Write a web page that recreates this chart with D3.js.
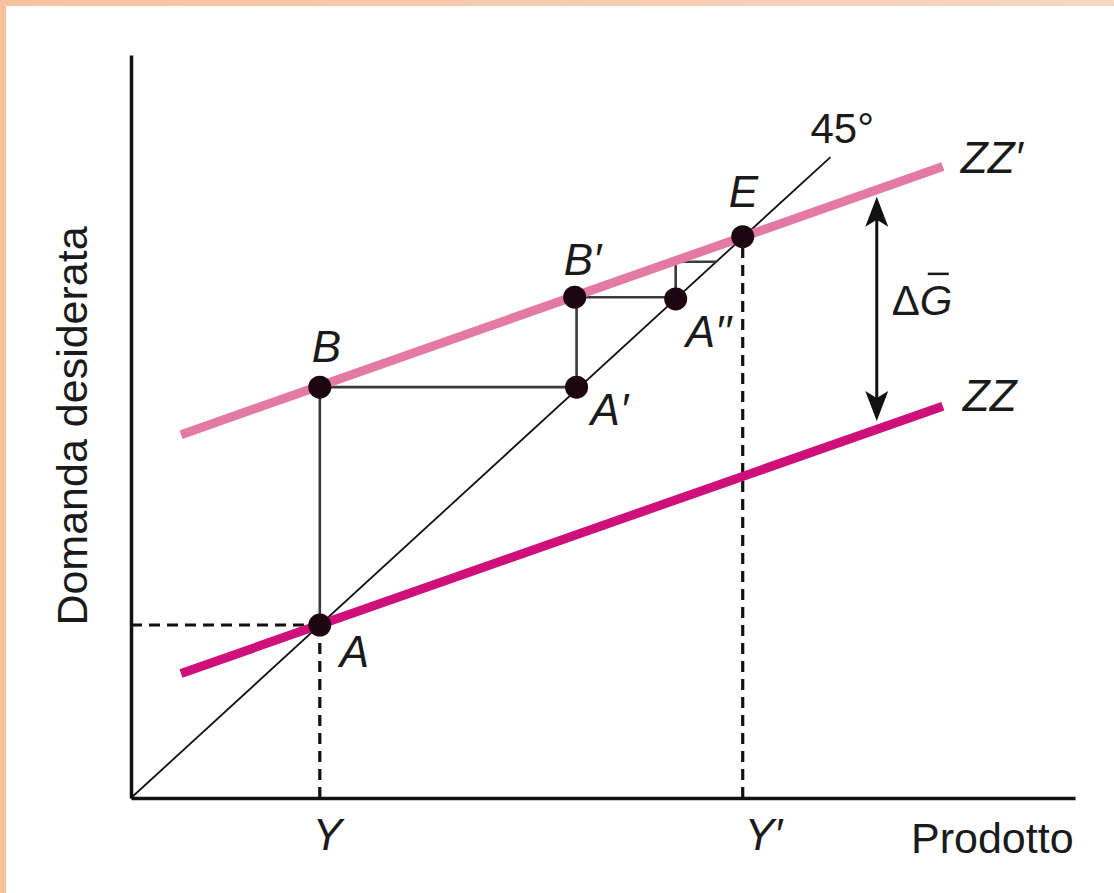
<!DOCTYPE html>
<html>
<head>
<meta charset="utf-8">
<script src="https://cdn.jsdelivr.net/npm/d3@7"></script>
<style>
  html, body { margin: 0; padding: 0; background: #fff; }
  svg { display: block; }
  text { font-family: "Liberation Sans", Arial, "DejaVu Sans", sans-serif; fill: #1a1a1a; }
</style>
</head>
<body>
<svg id="chart" width="1114" height="893"></svg>
<script>
// ---------- data (in chart units) ----------
const xDomain = [0, 10];
const yDomain = [0, 8.59];

// 45-degree line end
const line45X = [0, 7.41];
const line45Y = [0, 7.41];

// ZZ and ZZ' demand lines (endpoints)
const zzX = [0.53, 8.6];
const zzY = [1.44, 4.53];
const zzPrimeY = [4.20, 7.30];

// labelled points of the adjustment path
const pointNames = ["A", "B", "A′", "B′", "A′′", "E"];
const pointX = [2.0, 2.0, 4.72, 4.70, 5.77, 6.48];
const pointY = [2.0, 4.75, 4.75, 5.79, 5.77, 6.49];

// staircase (solid step lines) vertices
const stepX = [2.0, 2.0, 4.72, 4.72, 5.77, 5.77, 6.2];
const stepY = [2.0, 4.75, 4.75, 5.79, 5.79, 6.2, 6.2];

// dashed guide lines
const guideX1 = [0, 2.0, 6.48];
const guideY1 = [2.0, 0, 0];
const guideX2 = [2.0, 2.0, 6.48];
const guideY2 = [2.0, 2.0, 6.49];

// delta G arrow
const arrowX = 7.9;
const arrowYTop = 6.95;
const arrowYBottom = 4.36;

// tick labels on the x axis
const xTickValues = [2.0, 6.48];
const xTickLabels = ["Y", "Y′"];

// ---------- drawing ----------
const svg = d3.select("#chart");
const W = 1114, H = 893;

// peach frame
const defs = svg.append("defs");
const grad = defs.append("linearGradient").attr("id", "topband").attr("x1", "0").attr("x2", "1");
grad.append("stop").attr("offset", "0").attr("stop-color", "#F6C29E");
grad.append("stop").attr("offset", "1").attr("stop-color", "#F8D6C2");
svg.append("rect").attr("x", 0).attr("y", 0).attr("width", W).attr("height", H).attr("fill", "#fff");
svg.append("rect").attr("x", 0).attr("y", 0).attr("width", W).attr("height", 6).attr("fill", "url(#topband)");
svg.append("rect").attr("x", 0).attr("y", 0).attr("width", 6).attr("height", H).attr("fill", "#F6C29E");

const x = d3.scaleLinear().domain(xDomain).range([131, 1075]);
const y = d3.scaleLinear().domain(yDomain).range([798, 55]);

const g = svg.append("g");

// dashed guides
guideX1.forEach((_, i) => {
  g.append("line")
    .attr("x1", x(guideX1[i])).attr("y1", y(guideY1[i]))
    .attr("x2", x(guideX2[i])).attr("y2", y(guideY2[i]))
    .attr("stroke", "#111").attr("stroke-width", 3.2)
    .attr("stroke-dasharray", "11,7");
});

// 45 degree line
g.append("line")
  .attr("x1", x(line45X[0])).attr("y1", y(line45Y[0]))
  .attr("x2", x(line45X[1])).attr("y2", y(line45Y[1]))
  .attr("stroke", "#111").attr("stroke-width", 1.8);

// staircase
const stepData = stepX.map((v, i) => [v, stepY[i]]);
g.append("path")
  .attr("d", d3.line().x(d => x(d[0])).y(d => y(d[1]))(stepData))
  .attr("fill", "none").attr("stroke", "#3a3a3a").attr("stroke-width", 2.6);

// ZZ lines
g.append("line")
  .attr("x1", x(zzX[0])).attr("y1", y(zzPrimeY[0]))
  .attr("x2", x(zzX[1])).attr("y2", y(zzPrimeY[1]))
  .attr("stroke", "#E27AA4").attr("stroke-width", 9);
g.append("line")
  .attr("x1", x(zzX[0])).attr("y1", y(zzY[0]))
  .attr("x2", x(zzX[1])).attr("y2", y(zzY[1]))
  .attr("stroke", "#D0107A").attr("stroke-width", 9);

// axes
const xAxis = d3.axisBottom(x).tickValues([]).tickSizeOuter(0);
const yAxis = d3.axisLeft(y).tickValues([]).tickSizeOuter(0);
const gx = svg.append("g").attr("transform", `translate(0,${y(0)})`).call(xAxis);
const gy = svg.append("g").attr("transform", `translate(${x(0)},0)`).call(yAxis);
[gx, gy].forEach(a => a.select(".domain").attr("stroke", "#111").attr("stroke-width", 3.5));

// points
g.selectAll("circle.pt").data(pointX.map((v, i) => ({ x: v, y: pointY[i] })))
  .join("circle").attr("class", "pt")
  .attr("cx", d => x(d.x)).attr("cy", d => y(d.y)).attr("r", 11.5)
  .attr("fill", "#1c0710");

// arrow (delta G)
const ax = x(arrowX), aTop = y(arrowYTop), aBot = y(arrowYBottom);
const headL = 30, headW = 11.5, notch = 23;
g.append("line").attr("x1", ax).attr("x2", ax)
  .attr("y1", aTop + notch - 2).attr("y2", aBot - notch + 2)
  .attr("stroke", "#111").attr("stroke-width", 3);
g.append("path")
  .attr("d", `M${ax},${aTop} L${ax + headW},${aTop + headL} L${ax},${aTop + notch} L${ax - headW},${aTop + headL} Z`)
  .attr("fill", "#111");
g.append("path")
  .attr("d", `M${ax},${aBot} L${ax + headW},${aBot - headL} L${ax},${aBot - notch} L${ax - headW},${aBot - headL} Z`)
  .attr("fill", "#111");

// point labels (offsets in px)
const labelDX = [20, -8, 14, -11, 10, -14];
const labelDY = [42, -25, 38, -22, 48, -30];
pointNames.forEach((name, i) => {
  g.append("text")
    .attr("x", x(pointX[i]) + labelDX[i]).attr("y", y(pointY[i]) + labelDY[i])
    .attr("font-size", 44).attr("font-style", "italic")
    .text(name);
});

// line labels
g.append("text").attr("x", x(zzX[1]) + 18).attr("y", y(zzPrimeY[1]) + 6)
  .attr("font-size", 44).attr("font-style", "italic").text("ZZ′");
g.append("text").attr("x", x(zzX[1]) + 20).attr("y", y(zzY[1]) + 5)
  .attr("font-size", 44).attr("font-style", "italic").text("ZZ");
g.append("text").attr("x", x(line45X[1]) - 20).attr("y", y(line45Y[1]) - 14)
  .attr("font-size", 42).text("45°");

// delta G label
const mid = (aTop + aBot) / 2;
const dg = g.append("text").attr("x", ax + 15).attr("y", mid + 6).attr("font-size", 42);
dg.append("tspan").text("Δ");
dg.append("tspan").attr("font-style", "italic").text("G");
g.append("line").attr("x1", ax + 51).attr("x2", ax + 72)
  .attr("y1", mid - 35).attr("y2", mid - 35)
  .attr("stroke", "#1a1a1a").attr("stroke-width", 2.5);

// x tick labels
const tickDX = [-7, 2];
xTickValues.forEach((v, i) => {
  svg.append("text").attr("x", x(v) + tickDX[i]).attr("y", 850)
    .attr("font-size", 44).attr("font-style", "italic").text(xTickLabels[i]);
});

// axis titles
svg.append("text").attr("x", 911).attr("y", 853).attr("font-size", 43).text("Prodotto");
svg.append("text").attr("transform", "translate(87,426) rotate(-90)")
  .attr("text-anchor", "middle").attr("font-size", 43).text("Domanda desiderata");
</script>
</body>
</html>
